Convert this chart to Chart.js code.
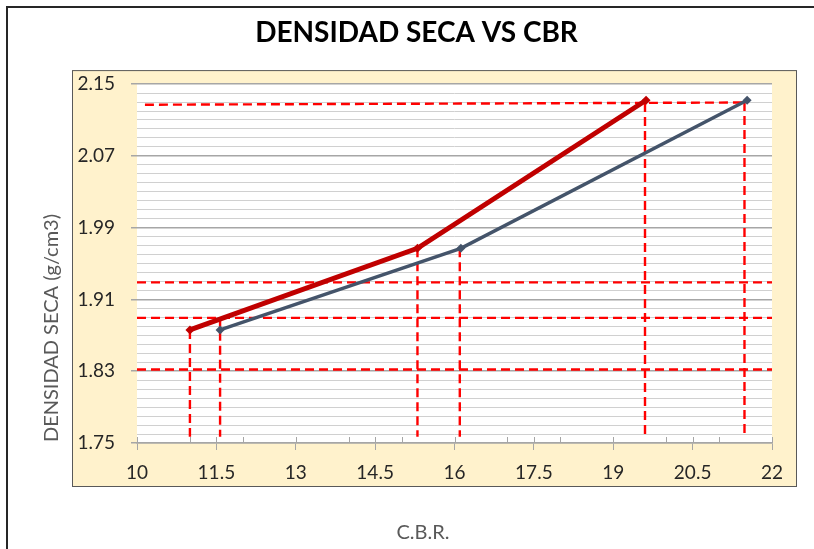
<!DOCTYPE html>
<html lang="es">
<head>
    <meta charset="UTF-8">
    <title>Densidad seca vs CBR</title>
    <script src="https://cdn.jsdelivr.net/npm/chart.js"></script>
    <style>
        html, body { margin: 0; padding: 0; background: #fff; overflow: hidden; width: 814px; height: 549px; }
        .linea { position: absolute; background: #262626; pointer-events: none; }
        .sup { left: 6px; top: 6px; width: 808px; height: 2px; }
        .izq { left: 6px; top: 6px; width: 2px; height: 543px; }
        canvas { position: absolute; left: 0; top: 0; }
    </style>
</head>
<body>
    <canvas id="grafico" width="814" height="549"></canvas>
    <div class="linea sup"></div>
    <div class="linea izq"></div>

<script>
    // datos
    const cbrRojo = [11.0, 15.3, 19.62];
    const densRojo = [1.876, 1.967, 2.132];
    const cbrGris = [11.57, 16.12, 21.53];
    const densGris = [1.876, 1.967, 2.132];

    // lineas guia rojas punteadas
    const guiaHorizY = [1.929, 1.8895, 1.832];
    const guiaHorizX = [10, 22];
    const guiaSupX = [10.15, 21.53];
    const guiaSupY = [2.127, 2.1295];
    const guiaVertX = [11.0, 11.57, 15.3, 16.1, 19.6, 21.48];
    const guiaVertTop = [1.876, 1.8895, 1.967, 1.967, 2.129, 2.13];
    const guiaVertBase = 1.757;

    const xTicks = ['10', '11.5', '13', '14.5', '16', '17.5', '19', '20.5', '22'];
    const yTicks = ['1.75', '1.83', '1.91', '1.99', '2.07', '2.15'];

    const rojo = '#C00000';
    const gris = '#44546A';
    const guia = '#FF0000';

    const puntos = (xs, ys) => xs.map((x, i) => ({x: x, y: ys[i]}));

    const guiaBase = {
        showLine: true, borderColor: guia, borderWidth: 2.4,
        borderDash: [9, 5], pointRadius: 0, fill: false
    };

    const datasets = [
        {
            label: 'Serie 1', data: puntos(cbrRojo, densRojo), showLine: true,
            borderColor: rojo, backgroundColor: rojo, borderWidth: 5,
            pointStyle: 'rectRot', pointRadius: 4.5, pointBorderWidth: 0
        },
        {
            label: 'Serie 2', data: puntos(cbrGris, densGris), showLine: true,
            borderColor: gris, backgroundColor: gris, borderWidth: 3.5,
            pointStyle: 'rectRot', pointRadius: 4.5, pointBorderWidth: 0
        },
        Object.assign({label: 'guia sup', data: puntos(guiaSupX, guiaSupY)}, guiaBase)
    ];
    guiaHorizY.forEach((y, i) => {
        datasets.push(Object.assign({label: 'guia h' + i, data: puntos(guiaHorizX, [y, y])}, guiaBase));
    });
    guiaVertX.forEach((x, i) => {
        datasets.push(Object.assign({label: 'guia v' + i, data: puntos([x, x], [guiaVertTop[i], guiaVertBase])}, guiaBase));
    });

    const esMayorY = v => yTicks.includes(v.toFixed(2));
    const etiquetaX = v => String(Math.round(v * 10) / 10);

    // fondo crema, titulos de ejes y marcas internas del eje x
    const marcoPlugin = {
        id: 'marco',
        beforeDraw(chart) {
            const {ctx, chartArea: a} = chart;
            ctx.save();
            ctx.fillStyle = '#FFF2CC';
            ctx.fillRect(a.left - 65, a.top - 14, a.width + 90, a.height + 58);
            ctx.strokeStyle = '#595959';
            ctx.lineWidth = 1;
            ctx.strokeRect(a.left - 64.5, a.top - 13.5, a.width + 89, a.height + 57);
            ctx.fillStyle = '#fff';
            ctx.fillRect(a.left, a.top, a.width, a.height);
            ctx.restore();
        },
        beforeDatasetsDraw(chart) {
            const {ctx, chartArea: a, scales} = chart;
            ctx.save();
            ctx.strokeStyle = '#a6a6a6';
            ctx.lineWidth = 1;
            scales.x.ticks.forEach(t => {
                if (Number.isInteger(t.value) || xTicks.includes(etiquetaX(t.value))) {
                    const px = Math.round(scales.x.getPixelForValue(t.value)) + 0.5;
                    ctx.beginPath();
                    ctx.moveTo(px, a.bottom);
                    ctx.lineTo(px, a.bottom - 6);
                    ctx.stroke();
                }
            });
            ctx.restore();
        },
        afterDraw(chart) {
            const {ctx, chartArea: a} = chart;
            ctx.save();
            ctx.fillStyle = '#595959';
            ctx.font = '20px Lato';
            ctx.textAlign = 'center';
            ctx.textBaseline = 'middle';
            ctx.fillText('C.B.R.', a.left + 286, a.bottom + 90);
            ctx.translate(a.left - 85, a.bottom - 115);
            ctx.rotate(-Math.PI / 2);
            ctx.fillText('DENSIDAD SECA (g/cm3)', 0, 0);
            ctx.restore();
        }
    };

    Chart.defaults.font.family = 'Lato';

    new Chart(document.getElementById('grafico'), {
        type: 'scatter',
        data: {datasets: datasets},
        plugins: [marcoPlugin],
        options: {
            responsive: false,
            animation: false,
            layout: {padding: {left: 61, right: 42, top: 0, bottom: 62}},
            plugins: {
                legend: {display: false},
                tooltip: {enabled: false},
                title: {
                    display: true,
                    text: 'DENSIDAD SECA VS CBR',
                    color: '#000',
                    font: {size: 28, weight: 'bold'},
                    padding: {top: 16, bottom: 34.5}
                }
            },
            scales: {
                x: {
                    type: 'linear', min: 10, max: 22,
                    afterFit: s => { s.height = 44; },
                    border: {display: true, color: '#a6a6a6', width: 1.5},
                    grid: {
                        drawOnChartArea: false, tickLength: 7,
                        tickColor: c => (c.tick && xTicks.includes(etiquetaX(c.tick.value))) ? '#a6a6a6' : 'rgba(0,0,0,0)'
                    },
                    ticks: {
                        stepSize: 0.5, autoSkip: false, maxRotation: 0, padding: 11,
                        color: '#262626', font: {size: 19},
                        callback: v => {
                            const s = etiquetaX(v);
                            return xTicks.includes(s) ? s : '';
                        }
                    }
                },
                y: {
                    min: 1.75, max: 2.15,
                    afterFit: s => { s.width = 76; },
                    border: {display: false},
                    grid: {
                        color: c => (c.tick && esMayorY(c.tick.value)) ? '#a6a6a6' : '#d0d0d0',
                        lineWidth: c => (c.tick && esMayorY(c.tick.value)) ? 1.5 : 1,
                        tickLength: 6,
                        tickColor: c => (c.tick && esMayorY(c.tick.value)) ? '#a6a6a6' : 'rgba(0,0,0,0)'
                    },
                    ticks: {
                        stepSize: 0.01, autoSkip: false, padding: 16, crossAlign: 'near',
                        color: '#262626', font: {size: 19},
                        callback: v => esMayorY(v) ? v.toFixed(2) : ''
                    }
                }
            }
        }
    });
</script>
</body>
</html>
